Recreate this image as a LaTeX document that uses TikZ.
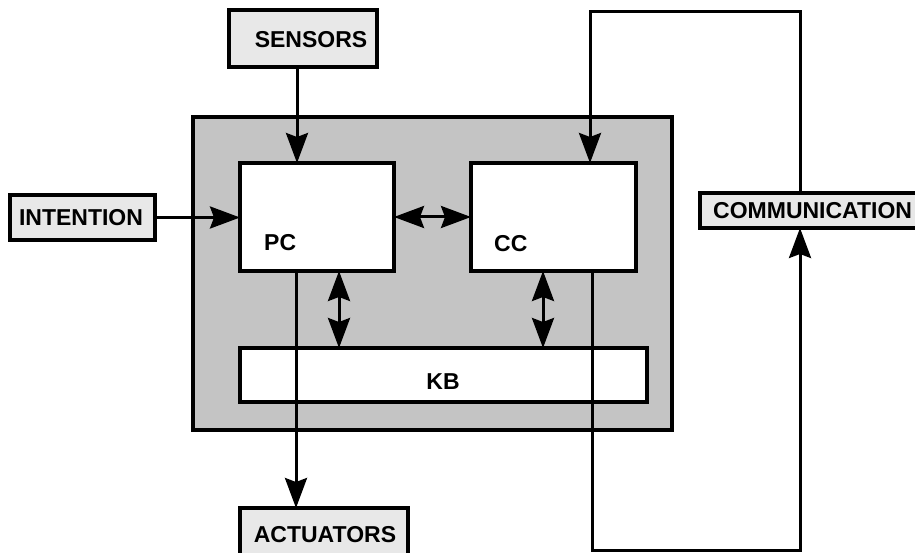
\documentclass[tikz,border=0pt]{standalone}
\usepackage{fontspec}
\setmainfont{Liberation Sans}
\usetikzlibrary{arrows.meta}
\begin{document}
\begin{tikzpicture}[x=1pt,y=-1pt,
  box/.style={draw, line width=3.4pt, inner sep=0pt, outer sep=0pt, anchor=north west},
  inner/.style={box, fill=white},
  lab/.style={box, fill=black!9},
  txt/.style={font=\fontsize{23}{25}\selectfont\bfseries, inner sep=0pt},
  tip/.tip={Stealth[length=30pt,width=22pt,inset=4pt]},
  arr/.style={line width=3pt, -tip},
  darr/.style={line width=3pt, tip-tip},
  ln/.style={line width=3pt}]
\useasboundingbox (0,0) rectangle (915,553);
% outer shaded frame
\node[box, fill=black!23, line width=4pt, minimum width=479pt, minimum height=313pt] (agent) at (193,117) {};
% inner boxes
\node[inner, minimum width=154pt, minimum height=108pt] (pc) at (240,163) {};
\node[inner, minimum width=165pt, minimum height=108pt] (cc) at (471,163) {};
\node[inner, minimum width=407pt, minimum height=54pt] (kb) at (240,348) {};
\node[txt, anchor=west] (pct) at (264,243) {PC};
\node[txt, anchor=west] (cct) at (494,244) {CC};
\node[txt] (kbt) at (443,382) {KB};
% label boxes
\node[lab, minimum width=148pt, minimum height=57pt] (sensors) at (229,10) {};
\node[txt] (senst) at (311,40) {SENSORS};
\node[lab, minimum width=145pt, minimum height=45pt] (intention) at (10,195) {};
\node[txt] (intt) at (81,218) {INTENTION};
\node[lab, minimum width=240pt, minimum height=35pt] (comm) at (700,193) {};
\node[txt, anchor=west] (commt) at (713,211) {COMMUNICATION};
\node[lab, minimum width=168pt, minimum height=52pt] (act) at (240,508) {};
\node[txt] (actt) at (325,535) {ACTUATORS};
% connectors
\coordinate (lowr) at (800,550);
\coordinate (topr) at (800,12);
\draw[arr] ([xshift=-6pt]sensors.south) -- ([xshift=-6pt]sensors.south |- pc.north);
\draw[arr] (intention.east) -- (intention.east -| pc.west);
\draw[darr] (pc.east) -- (cc.west);
\draw[darr] ([xshift=22pt]pc.south) -- ([xshift=22pt]pc.south |- kb.north);
\draw[darr] ([xshift=-10.5pt]cc.south) -- ([xshift=-10.5pt]cc.south |- kb.north);
\draw[arr] ([xshift=-21pt]pc.south) -- ([xshift=-21pt]pc.south |- act.north);
\draw[arr] ([xshift=38.5pt]cc.south) |- (lowr) -- (lowr |- comm.south);
\draw[arr] (topr |- comm.north) -- (topr) -| ([xshift=36.5pt]cc.north);
\end{tikzpicture}
\end{document}
